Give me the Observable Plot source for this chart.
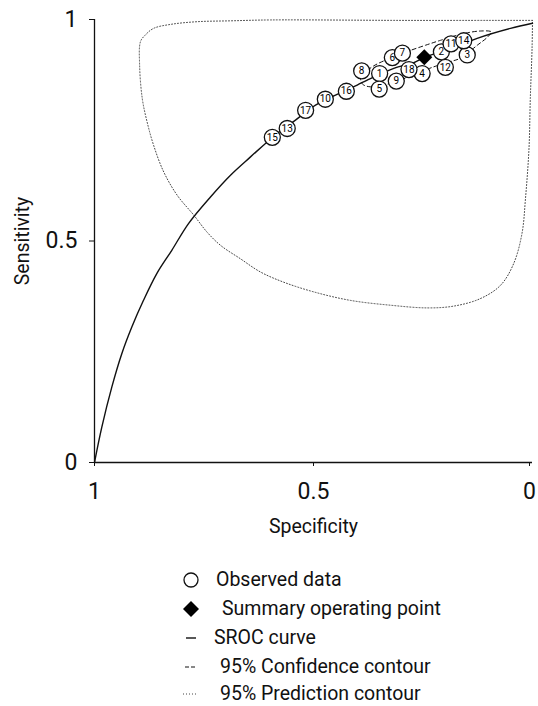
<!DOCTYPE html>
<html><head><meta charset="utf-8">
<script src="https://cdn.jsdelivr.net/npm/d3@7"></script>
<script src="https://cdn.jsdelivr.net/npm/@observablehq/plot@0.6"></script>
<style>
body{margin:0;background:#fff;font-family:Roboto,"Liberation Sans",sans-serif;}
#chart{position:absolute;left:0;top:0;}
.row{position:absolute;height:22px;font-size:19.5px;color:#111;white-space:nowrap;}
.row svg{position:absolute;}
.row span{position:absolute;top:0;line-height:22px;}
</style></head><body><div id="chart"></div><div id="legend"></div>
<script>
// Observed studies
const studyIds  = [1,2,3,4,5,6,7,8,9,10,11,12,13,14,15,16,17,18];
const studySpec = [0.349,0.208,0.149,0.252,0.350,0.320,0.297,0.390,0.311,0.473,0.186,0.199,0.560,0.157,0.594,0.425,0.518,0.282];
const studySens = [0.878,0.927,0.920,0.878,0.843,0.914,0.924,0.884,0.861,0.820,0.945,0.892,0.754,0.952,0.734,0.838,0.795,0.887];
// Summary operating point
const summarySpec = [0.247];
const summarySens = [0.915];
// SROC curve
const srocSpec = [1,0.9833,0.9605,0.9377,0.9148,0.8881,0.8578,0.8235,0.7854,0.7352,0.6895,0.6438,0.5829,0.5411,0.4954,0.4498,0.4002,0.3774,0.3167,0.2710,0.2466,0.2253,0.1719,0.1263,0.0502,0];
const srocSens = [0,0.0798,0.1702,0.2456,0.3058,0.3661,0.4264,0.4791,0.5394,0.5995,0.6486,0.6899,0.7428,0.7729,0.8068,0.8294,0.8520,0.8633,0.8897,0.9024,0.9146,0.9220,0.9385,0.9575,0.9801,0.9914];
// 95% confidence contour
const confSpec = [0.393,0.388,0.363,0.324,0.285,0.244,0.210,0.158,0.119,0.094,0.103,0.126,0.164,0.187,0.226,0.279,0.324,0.370,0.388,0.393];
const confSens = [0.866,0.875,0.895,0.913,0.928,0.942,0.953,0.968,0.974,0.972,0.960,0.942,0.913,0.905,0.893,0.872,0.856,0.848,0.854,0.866];
// 95% prediction contour
const predSpec = [0,0.096,0.301,0.598,0.689,0.766,0.826,0.865,0.884,0.895,0.897,0.891,0.880,0.865,0.842,0.811,0.773,0.743,0.712,0.667,0.621,0.568,0.499,0.416,0.324,0.240,0.180,0.119,0.073,0.043,0.024,0.016,0.008,0.005,0.001,0];
const predSens = [0.998,0.998,0.998,0.999,0.997,0.995,0.989,0.980,0.965,0.950,0.897,0.822,0.769,0.716,0.656,0.603,0.558,0.520,0.490,0.460,0.430,0.407,0.385,0.366,0.355,0.349,0.353,0.370,0.400,0.449,0.517,0.596,0.709,0.822,0.935,0.998];
// Axis ticks
const xTicks = [1,0.5,0];
const yTicks = [0,0.5,1];
const xTitle = "Specificity";
const yTitle = "Sensitivity";
const legendItems = ["Observed data","Summary operating point","SROC curve","95% Confidence contour","95% Prediction contour"];

const zip = (a,b) => a.map((v,i)=>({spec:v,sens:b[i]}));
const studies = studyIds.map((id,i)=>({id,spec:studySpec[i],sens:studySens[i]}));
const summary = zip(summarySpec,summarySens);
const sroc = zip(srocSpec,srocSens);
const conf = zip(confSpec,confSens);
const pred = zip(predSpec,predSens);
const fmt = d => String(d);

const chart = Plot.plot({
  width:538, height:540,
  marginLeft:94, marginRight:6, marginTop:19, marginBottom:78,
  style:{fontFamily:'Roboto,"Liberation Sans",sans-serif', background:"#fff", color:"#111"},
  x:{domain:[1,0], label:null},
  y:{domain:[0,1], label:null},
  marks:[
    Plot.axisX({ticks:xTicks.filter(d=>d!==0), tickFormat:fmt, tickSize:4, tickPadding:16, fontSize:23, label:null}),
    Plot.axisX({ticks:xTicks.filter(d=>d===0), tickFormat:fmt, tickSize:4, tickPadding:16, fontSize:23, label:null, dx:-3}),
    Plot.axisY({ticks:yTicks, tickFormat:fmt, tickSize:5, tickPadding:12, fontSize:23, label:null}),
    Plot.ruleY([0],{stroke:"#111",strokeWidth:1.3}),
    Plot.ruleX([1],{stroke:"#111",strokeWidth:1.3}),
    Plot.text([xTitle],{frameAnchor:"bottom",lineAnchor:"middle",dy:64,fontSize:19.5,fill:"#111"}),
    Plot.text([yTitle],{frameAnchor:"left",textAnchor:"middle",lineAnchor:"middle",dx:-72,rotate:-90,fontSize:19.5,fill:"#111"}),
    Plot.line(pred,{x:"spec",y:"sens",curve:"catmull-rom",stroke:"#444",strokeWidth:1,strokeDasharray:"1,2"}),
    Plot.line(sroc,{x:"spec",y:"sens",curve:"catmull-rom",stroke:"#111",strokeWidth:1.4}),
    Plot.line(conf,{x:"spec",y:"sens",curve:"catmull-rom-closed",stroke:"#111",strokeWidth:1,strokeDasharray:"4,3"}),
    Plot.dot(studies,{x:"spec",y:"sens",r:8,fill:"#fff",stroke:"#111",strokeWidth:1.3}),
    Plot.text(studies,{x:"spec",y:"sens",text:"id",fontSize:10,fill:"#000"}),
    Plot.dot(summary,{x:"spec",y:"sens",symbol:"diamond2",r:7.2,fill:"#000",stroke:"none"})
  ]
});
document.getElementById("chart").append(chart);

// Legend below the chart
const legend = document.getElementById("legend");
const rowY = [580,609,638,667,694];
const textX = [216,222,214,220,220];
const symbols = [
  '<circle cx="10" cy="10" r="7" fill="#fff" stroke="#111" stroke-width="1.3"/>',
  '<path d="M10 2 L18 10 L10 18 L2 10 Z" fill="#000"/>',
  '<line x1="5" x2="15" y1="10" y2="10" stroke="#111" stroke-width="1.4"/>',
  '<line x1="4" x2="14" y1="10" y2="10" stroke="#111" stroke-width="1" stroke-dasharray="4,2"/>',
  '<line x1="2" x2="17" y1="10" y2="10" stroke="#444" stroke-width="1" stroke-dasharray="1,2"/>'
];
legendItems.forEach((t,i)=>{
  const r = document.createElement("div");
  r.className="row";
  r.style.left="0px"; r.style.top=(rowY[i]-11)+"px"; r.style.width="538px";
  r.innerHTML = `<svg width="20" height="20" style="left:${190.7-10}px;top:1px">${symbols[i]}</svg><span style="left:${textX[i]}px">${t}</span>`;
  legend.append(r);
});
</script></body></html>
